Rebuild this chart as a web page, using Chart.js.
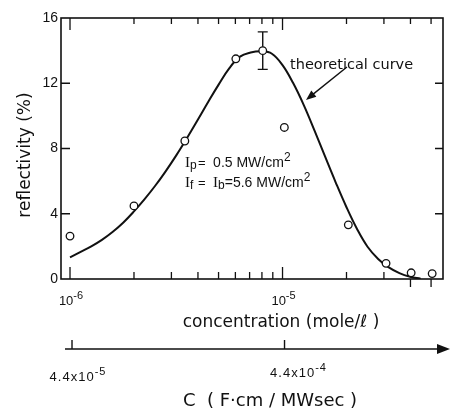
<!DOCTYPE html>
<html>
<head>
<meta charset="utf-8">
<script src="https://cdn.jsdelivr.net/npm/chart.js@4/dist/chart.umd.min.js"></script>
<style>
  html, body { margin: 0; padding: 0; background: #fff; }
  #wrap { width: 451px; height: 409px; }
</style>
</head>
<body>
<div id="wrap"><canvas id="chart" width="451" height="409"></canvas></div>
<script>
// measured reflectivity (open circles)
const measuredConc = [1.0e-6, 2.0e-6, 3.47e-6, 6.03e-6, 8.07e-6, 1.02e-5, 2.04e-5, 3.07e-5, 4.03e-5, 5.06e-5];
const measuredRefl = [2.63, 4.48, 8.46, 13.5, 14.0, 9.29, 3.32, 0.96, 0.38, 0.33];

const curveConc = [1.0e-6, 1.122e-6, 1.259e-6, 1.413e-6, 1.585e-6, 1.778e-6, 1.995e-6, 2.239e-6, 2.512e-6, 2.818e-6,
                   3.162e-6, 3.548e-6, 3.981e-6, 4.467e-6, 5.012e-6, 5.623e-6, 6.310e-6, 7.079e-6, 7.943e-6, 8.913e-6,
                   1.0e-5, 1.122e-5, 1.259e-5, 1.413e-5, 1.585e-5, 1.778e-5, 1.995e-5, 2.239e-5, 2.512e-5, 2.818e-5,
                   3.162e-5, 3.548e-5, 3.981e-5, 4.467e-5];
const curveRefl = [1.33, 1.66, 2.0, 2.4, 2.88, 3.45, 4.13, 4.88, 5.7, 6.6,
                   7.58, 8.63, 9.73, 10.85, 11.93, 12.93, 13.63, 13.88, 13.96, 13.81,
                   13.11, 12.01, 10.66, 9.11, 7.51, 5.93, 4.43, 3.08, 1.98, 1.23,
                   0.71, 0.36, 0.14, 0.02];

// error bar on the peak point
const errConc = [8.07e-6];
const errLow = [12.85];
const errHigh = [15.15];

// axis ticks
const yTicks = [0, 4, 8, 12, 16];
const xMajorTicks = [1e-6, 1e-5];
const xMajorExp = ['-6', '-5'];
const xMinorTicks = [2e-6, 3e-6, 4e-6, 5e-6, 6e-6, 7e-6, 8e-6, 9e-6, 2e-5, 3e-5];
const xOuterTicks = [4e-5, 5e-5];
const lowerBase = ['4.4x10', '4.4x10'];
const lowerExp = ['-5', '-4'];

const FONT = '"Liberation Sans", Arial, sans-serif';
const WIDE = '"DejaVu Sans", sans-serif';

function runs(ctx, x, y, parts) {
    // parts: [text, size, dy, family]
    let cx = x;
    parts.forEach(([t, size, dy, fam]) => {
        ctx.font = size + 'px ' + (fam || FONT);
        ctx.fillText(t, cx, y + (dy || 0));
        cx += ctx.measureText(t).width;
    });
    return cx;
}

function partsWidth(ctx, parts) {
    let w = 0;
    parts.forEach(([t, size, dy, fam]) => {
        ctx.font = size + 'px ' + (fam || FONT);
        w += ctx.measureText(t).width;
    });
    return w;
}

const framePlugin = {
    id: 'frame',
    beforeDatasetsDraw(chart) {
        const ctx = chart.ctx, x = chart.scales.x, y = chart.scales.y;
        ctx.save();
        ctx.strokeStyle = '#111';
        ctx.lineWidth = 1.4;
        errConc.forEach((c, i) => {
            const px = x.getPixelForValue(c);
            const y0 = y.getPixelForValue(errLow[i]), y1 = y.getPixelForValue(errHigh[i]);
            ctx.beginPath();
            ctx.moveTo(px, y0); ctx.lineTo(px, y1);
            ctx.moveTo(px - 5, y0); ctx.lineTo(px + 5, y0);
            ctx.moveTo(px - 5, y1); ctx.lineTo(px + 5, y1);
            ctx.stroke();
        });
        ctx.restore();
    },
    afterDatasetsDraw(chart) {
        const ctx = chart.ctx, a = chart.chartArea, x = chart.scales.x, y = chart.scales.y;
        ctx.save();
        ctx.strokeStyle = '#111';
        ctx.fillStyle = '#111';

        // box
        ctx.lineWidth = 1.6;
        ctx.strokeRect(a.left, a.top, a.right - a.left, a.bottom - a.top);

        // ticks
        ctx.lineWidth = 1.3;
        ctx.beginPath();
        xMajorTicks.forEach(v => {
            const px = x.getPixelForValue(v);
            ctx.moveTo(px, a.bottom); ctx.lineTo(px, a.bottom - 12);
            ctx.moveTo(px, a.top); ctx.lineTo(px, a.top + 12);
        });
        xMinorTicks.forEach(v => {
            const px = x.getPixelForValue(v);
            ctx.moveTo(px, a.bottom); ctx.lineTo(px, a.bottom - 7);
            ctx.moveTo(px, a.top); ctx.lineTo(px, a.top + 6);
        });
        xOuterTicks.forEach(v => {
            const px = x.getPixelForValue(v);
            ctx.moveTo(px, a.bottom); ctx.lineTo(px, a.bottom + 8);
            ctx.moveTo(px, a.top); ctx.lineTo(px, a.top + 6);
        });
        yTicks.slice(1, -1).forEach(v => {
            const py = y.getPixelForValue(v);
            ctx.moveTo(a.left, py); ctx.lineTo(a.left + 9, py);
            ctx.moveTo(a.right, py); ctx.lineTo(a.right - 8, py);
        });
        ctx.stroke();

        // y tick labels
        ctx.textBaseline = 'middle';
        ctx.textAlign = 'right';
        ctx.font = '14px ' + FONT;
        yTicks.forEach(v => ctx.fillText(String(v), a.left - 3, y.getPixelForValue(v)));

        // x tick labels
        ctx.textBaseline = 'alphabetic';
        ctx.textAlign = 'left';
        xMajorTicks.forEach((v, i) => {
            const parts = [['10', 13, 0], [xMajorExp[i], 11, -6]];
            const w = partsWidth(ctx, parts);
            runs(ctx, x.getPixelForValue(v) - w / 2 + 1, a.bottom + 26, parts);
        });

        // axis titles
        ctx.textAlign = 'center';
        ctx.font = '17px ' + WIDE;
        ctx.fillText('concentration (mole/\u2113 )', 281, 327);
        ctx.save();
        ctx.translate(30, 155);
        ctx.rotate(-Math.PI / 2);
        ctx.font = '17px ' + WIDE;
        ctx.fillText('reflectivity (%)', 0, 0);
        ctx.restore();

        // annotations inside the plot
        ctx.textAlign = 'left';
        ctx.font = '14.5px ' + WIDE;
        ctx.fillText('theoretical curve', x.getPixelForValue(1.085e-5), y.getPixelForValue(12.9));
        const tx = x.getPixelForValue(2.01e-5), ty = y.getPixelForValue(13.0);
        const hx = x.getPixelForValue(1.29e-5), hy = y.getPixelForValue(10.98);
        const ang = Math.atan2(hy - ty, hx - tx);
        ctx.lineWidth = 1.4;
        ctx.beginPath();
        ctx.moveTo(tx, ty); ctx.lineTo(hx - 6 * Math.cos(ang), hy - 6 * Math.sin(ang));
        ctx.stroke();
        ctx.beginPath();
        ctx.moveTo(hx, hy);
        ctx.lineTo(hx - 10 * Math.cos(ang) + 4 * Math.sin(ang), hy - 10 * Math.sin(ang) - 4 * Math.cos(ang));
        ctx.lineTo(hx - 10 * Math.cos(ang) - 4 * Math.sin(ang), hy - 10 * Math.sin(ang) + 4 * Math.cos(ang));
        ctx.closePath();
        ctx.fill();

        const ax = x.getPixelForValue(3.48e-6);
        const serif = '"Liberation Serif", serif';
        const l1 = y.getPixelForValue(6.87), l2 = y.getPixelForValue(5.64);
        runs(ctx, ax, l1, [['I', 15, 0, serif], ['p', 12, 2]]);
        runs(ctx, ax + 13, l1, [['=', 13, 0]]);
        runs(ctx, ax + 28, l1, [['0.5 MW/cm', 14, 0], ['2', 12, -6]]);
        runs(ctx, ax, l2, [['I', 15, 0, serif], ['f', 12, 2]]);
        runs(ctx, ax + 13, l2, [['=', 13, 0]]);
        runs(ctx, ax + 28, l2, [['I', 15, 0, serif], ['b', 12, 2], ['=5.6 MW/cm', 14, 0], ['2', 12, -6]]);

        // second (C) axis below
        const ly = 349;
        ctx.lineWidth = 1.4;
        ctx.beginPath();
        ctx.moveTo(65, ly); ctx.lineTo(440, ly);
        xMajorTicks.forEach(v => {
            const px = x.getPixelForValue(v) + 2;
            ctx.moveTo(px, ly); ctx.lineTo(px, ly - 9);
        });
        ctx.stroke();
        ctx.beginPath();
        ctx.moveTo(450, ly); ctx.lineTo(437, ly - 5); ctx.lineTo(437, ly + 5);
        ctx.closePath();
        ctx.fill();

        ctx.textAlign = 'left';
        ctx.letterSpacing = '1px';
        xMajorTicks.forEach((v, i) => {
            const parts = [[lowerBase[i], 13, 0], [lowerExp[i], 11, -6]];
            const w = partsWidth(ctx, parts);
            const base = i === 0 ? 381 : 377;
            const shift = i === 0 ? 8 : 16;
            runs(ctx, x.getPixelForValue(v) - w / 2 + shift, base, parts);
        });
        ctx.letterSpacing = '0px';
        ctx.textAlign = 'center';
        ctx.font = '18px ' + WIDE;
        ctx.fillText('C  ( F\u00b7cm / MWsec )', 270, 406);

        ctx.restore();
    }
};

new Chart(document.getElementById('chart'), {
    type: 'scatter',
    data: {
        datasets: [
            {
                label: 'measured',
                data: measuredConc.map((c, i) => ({ x: c, y: measuredRefl[i] })),
                pointRadius: 3.8,
                pointBorderWidth: 1.3,
                pointBackgroundColor: '#fff',
                pointBorderColor: '#111',
                showLine: false
            },
            {
                label: 'theoretical curve',
                data: curveConc.map((c, i) => ({ x: c, y: curveRefl[i] })),
                showLine: true,
                pointRadius: 0,
                borderColor: '#111',
                borderWidth: 2,
                tension: 0.4
            }
        ]
    },
    options: {
        responsive: false,
        animation: false,
        layout: { padding: { left: 61, right: 8, top: 18, bottom: 130 } },
        plugins: { legend: { display: false }, tooltip: { enabled: false } },
        scales: {
            x: { type: 'logarithmic', min: 0.907e-6, max: 5.69e-5, display: false },
            y: { type: 'linear', min: 0, max: 16, display: false }
        }
    },
    plugins: [framePlugin]
});
</script>
</body>
</html>
